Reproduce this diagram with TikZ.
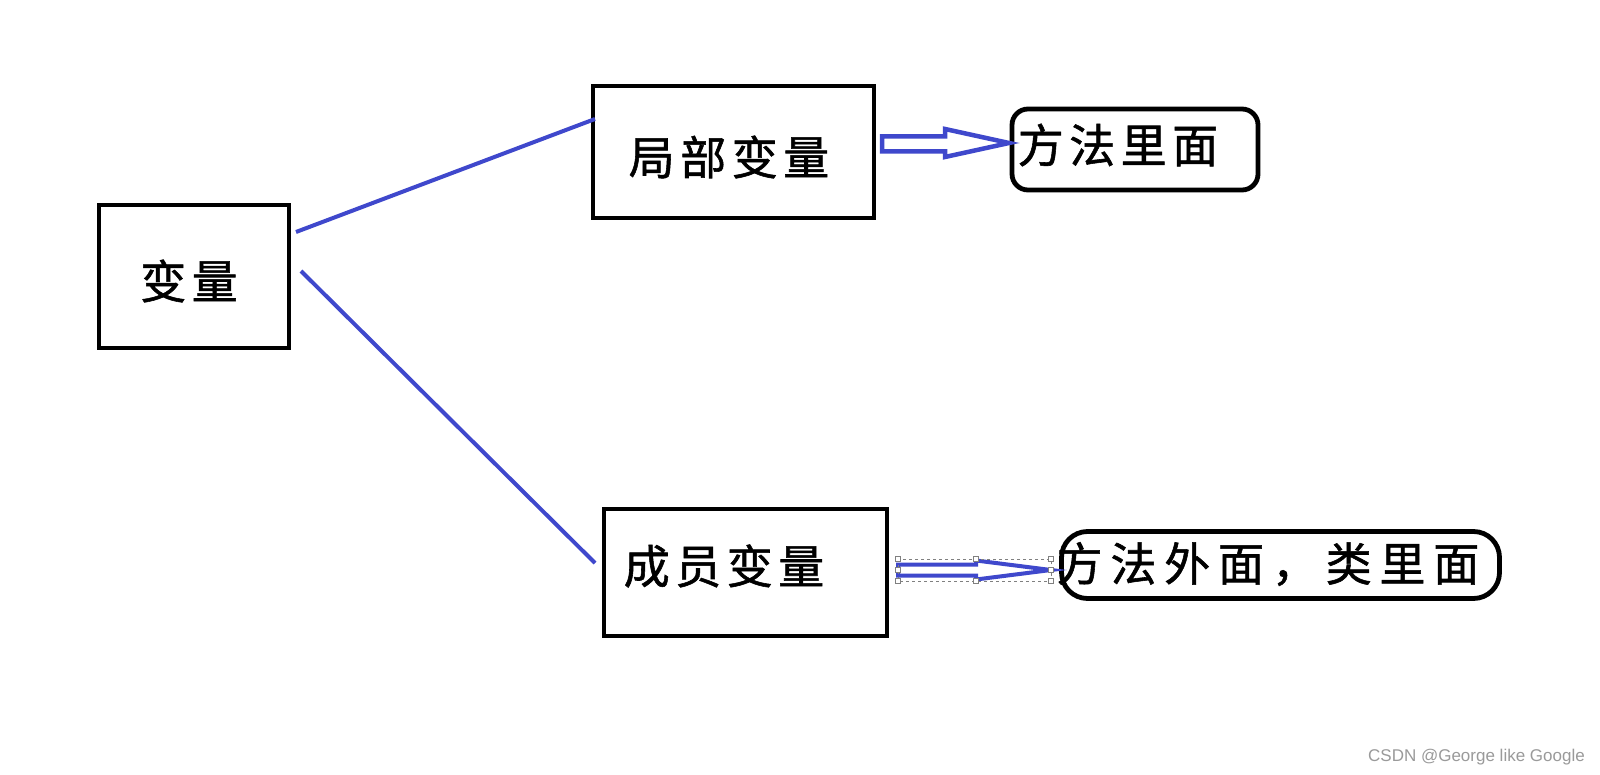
\documentclass[tikz,border=0pt]{standalone}
\usepackage{fontspec}
\usetikzlibrary{calc}
\newfontfamily\cjk[LetterSpace=12,FakeBold=1.2]{Noto Sans CJK SC}
\newfontfamily\cjkwide[LetterSpace=17,FakeBold=1.2]{Noto Sans CJK SC}
\newfontfamily\wmfont{Liberation Sans}
\definecolor{paintblue}{HTML}{3F48CC}
\definecolor{wmgray}{HTML}{9A9A9A}
\begin{document}
\begin{tikzpicture}[x=1pt,y=-1pt,
  box/.style={draw=black,line width=4.8pt,inner sep=0pt,fill=white},
  rbox/.style={box,rounded corners=16pt},
  lbl/.style={font=\cjk\fontsize{46}{50}\selectfont,inner sep=0pt},
  link/.style={draw=paintblue,line width=4pt},
  hollow/.style={draw=paintblue,line width=4.5pt,line join=miter},
  handle/.style={draw=gray,fill=white,line width=0.6pt,minimum size=5pt,inner sep=0pt}
]
\useasboundingbox (0,0) rectangle (1600,775);
\fill[white] (0,0) rectangle (1600,775);

% boxes
\node[box,minimum width=190pt,minimum height=143pt] (v) at (194,276.5) {};
\node[box,minimum width=281pt,minimum height=132pt] (loc) at (733.5,152) {};
\node[box,minimum width=283pt,minimum height=127pt] (mem) at (745.5,572.5) {};
\node[rbox,minimum width=246pt,minimum height=81pt] (r1) at (1135,149.5) {};
\node[box,rounded corners=26pt,minimum width=438pt,minimum height=67pt] (r2) at (1280.5,565) {};

% texts
\node[lbl] (vt) at (189,281) {变量};
\node[lbl] (loct) at (729,157) {局部变量};
\node[lbl] (memt) at (724,566) {成员变量};
\node[lbl] (r1t) at (1118,145) {方法里面};
\node[lbl,font=\cjkwide\fontsize{46}{50}\selectfont] (r2t) at (1268,564) {方法外面，类里面};

% connector lines
\coordinate (a1) at (296,232);
\coordinate (b1) at (595,119);
\coordinate (a2) at (301,271);
\coordinate (b2) at (595,563);
\draw[link] (a1) -- (b1);
\draw[link] (a2) -- (b2);

% hollow arrow 1 (loc -> r1)
\coordinate (t1) at (882,144);
\coordinate (h1) at (1009,143);
\draw[hollow] ($(t1)+(0,-7.5)$) -- (945,136.5) -- (945,129) -- (h1) -- (945,157) -- (945,151.5) -- ($(t1)+(0,7.5)$) -- cycle;

% hollow arrow 2 (mem -> r2), with selection frame
\coordinate (t2) at (898,570);
\coordinate (h2) at (1051,570);
\draw[hollow,line width=4pt] ($(t2)+(0,-5.5)$) -- (976,564.5) -- (976,560.5) -- (h2) -- (976,579.5) -- (976,575.5) -- ($(t2)+(0,5.5)$) -- cycle;
\draw[gray,dashed,line width=0.6pt] (898,559) rectangle (1051,581);
\foreach \hx/\hy in {898/559,976/559,1051/559,898/570,1051/570,898/581,976/581,1051/581}
  \node[handle] at (\hx,\hy) {};

% watermark
\node[anchor=east,inner sep=0pt,text=wmgray,font=\wmfont\fontsize{17}{20}\selectfont] (wm) at (1585,757) {CSDN @George like Google};
\end{tikzpicture}
\end{document}
